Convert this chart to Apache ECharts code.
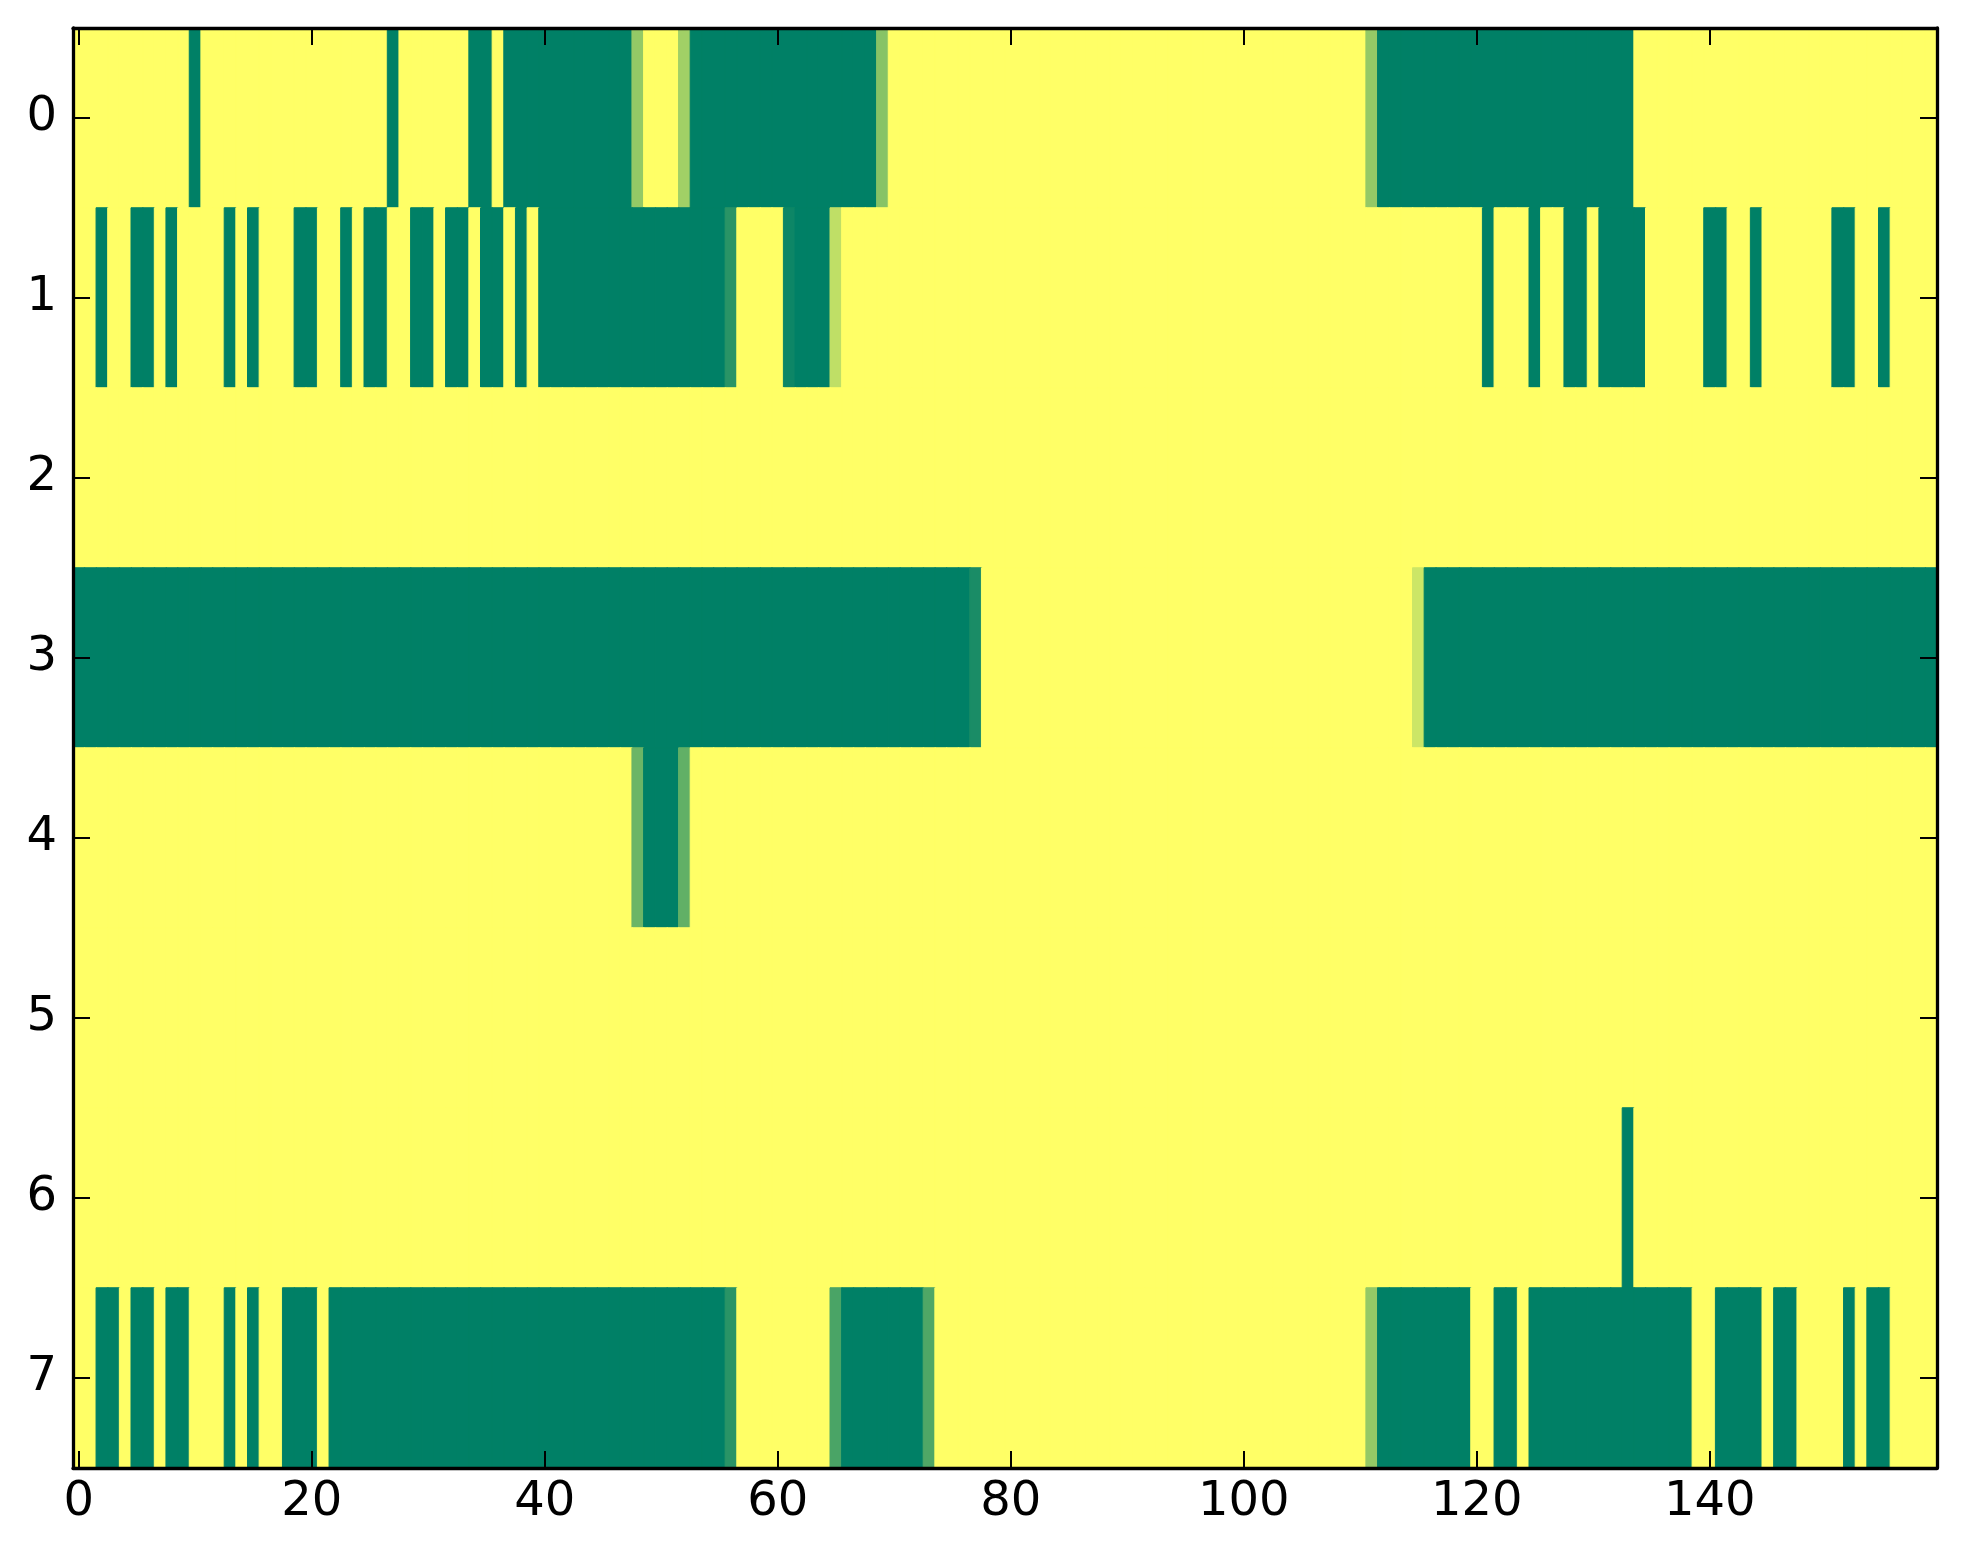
<!DOCTYPE html>
<html>
<head>
<meta charset="utf-8">
<script src="https://cdn.jsdelivr.net/npm/echarts@6/dist/echarts.min.js"></script>
<style>
html,body{margin:0;padding:0;background:#fff;}
#chart{width:1963px;height:1564px;}
</style>
</head>
<body>
<div id="chart"></div>
<script>
// ---- data: one array per image row, 160 columns each (1 = yellow, 0 = green) ----
var row0 = [
1,1,1,1,1,1,1,1,1,1, 0,1,1,1,1,1,1,1,1,1, 1,1,1,1,1,1,1,0,1,1, 1,1,1,1,0,0,1,0,0,0,
0,0,0,0,0,0,0,0,0.58,1, 1,1,0.63,0,0,0,0,0,0,0, 0,0,0,0,0,0,0,0,0,0.53, 1,1,1,1,1,1,1,1,1,1,
1,1,1,1,1,1,1,1,1,1, 1,1,1,1,1,1,1,1,1,1, 1,1,1,1,1,1,1,1,1,1, 1,0.58,0,0,0,0,0,0,0,0,
0,0,0,0,0,0,0,0,0,0, 0,0,0,0,1,1,1,1,1,1, 1,1,1,1,1,1,1,1,1,1, 1,1,1,1,1,1,1,1,1,1
];
var row1 = [
1,1,0,1,1,0,0,1,0,1, 1,1,1,0,1,0,1,1,1,0, 0,1,1,0,1,0,0,1,1,0, 0,1,0,0,1,0,0,1,0,1,
0,0,0,0,0,0,0,0,0,0, 0,0,0,0,0,0,0.16,1,1,1, 1,0.05,0,0,0,0.75,1,1,1,1, 1,1,1,1,1,1,1,1,1,1,
1,1,1,1,1,1,1,1,1,1, 1,1,1,1,1,1,1,1,1,1, 1,1,1,1,1,1,1,1,1,1, 1,1,1,1,1,1,1,1,1,1,
1,0,1,1,1,0,1,1,0,0, 1,0,0,0,0,1,1,1,1,1, 0,0,1,1,0,1,1,1,1,1, 1,0,0,1,1,0,1,1,1,1
];
var row2 = [
1,1,1,1,1,1,1,1,1,1, 1,1,1,1,1,1,1,1,1,1, 1,1,1,1,1,1,1,1,1,1, 1,1,1,1,1,1,1,1,1,1,
1,1,1,1,1,1,1,1,1,1, 1,1,1,1,1,1,1,1,1,1, 1,1,1,1,1,1,1,1,1,1, 1,1,1,1,1,1,1,1,1,1,
1,1,1,1,1,1,1,1,1,1, 1,1,1,1,1,1,1,1,1,1, 1,1,1,1,1,1,1,1,1,1, 1,1,1,1,1,1,1,1,1,1,
1,1,1,1,1,1,1,1,1,1, 1,1,1,1,1,1,1,1,1,1, 1,1,1,1,1,1,1,1,1,1, 1,1,1,1,1,1,1,1,1,1
];
var row3 = [
0,0,0,0,0,0,0,0,0,0, 0,0,0,0,0,0,0,0,0,0, 0,0,0,0,0,0,0,0,0,0, 0,0,0,0,0,0,0,0,0,0,
0,0,0,0,0,0,0,0,0,0, 0,0,0,0,0,0,0,0,0,0, 0,0,0,0,0,0,0,0,0,0, 0,0,0,0,0,0,0,0.1,1,1,
1,1,1,1,1,1,1,1,1,1, 1,1,1,1,1,1,1,1,1,1, 1,1,1,1,1,1,1,1,1,1, 1,1,1,1,1,0.8,0,0,0,0,
0,0,0,0,0,0,0,0,0,0, 0,0,0,0,0,0,0,0,0,0, 0,0,0,0,0,0,0,0,0,0, 0,0,0,0,0,0,0,0,0,0
];
var row4 = [
1,1,1,1,1,1,1,1,1,1, 1,1,1,1,1,1,1,1,1,1, 1,1,1,1,1,1,1,1,1,1, 1,1,1,1,1,1,1,1,1,1,
1,1,1,1,1,1,1,1,0.42,0, 0,0,0.38,1,1,1,1,1,1,1, 1,1,1,1,1,1,1,1,1,1, 1,1,1,1,1,1,1,1,1,1,
1,1,1,1,1,1,1,1,1,1, 1,1,1,1,1,1,1,1,1,1, 1,1,1,1,1,1,1,1,1,1, 1,1,1,1,1,1,1,1,1,1,
1,1,1,1,1,1,1,1,1,1, 1,1,1,1,1,1,1,1,1,1, 1,1,1,1,1,1,1,1,1,1, 1,1,1,1,1,1,1,1,1,1
];
var row5 = [
1,1,1,1,1,1,1,1,1,1, 1,1,1,1,1,1,1,1,1,1, 1,1,1,1,1,1,1,1,1,1, 1,1,1,1,1,1,1,1,1,1,
1,1,1,1,1,1,1,1,1,1, 1,1,1,1,1,1,1,1,1,1, 1,1,1,1,1,1,1,1,1,1, 1,1,1,1,1,1,1,1,1,1,
1,1,1,1,1,1,1,1,1,1, 1,1,1,1,1,1,1,1,1,1, 1,1,1,1,1,1,1,1,1,1, 1,1,1,1,1,1,1,1,1,1,
1,1,1,1,1,1,1,1,1,1, 1,1,1,1,1,1,1,1,1,1, 1,1,1,1,1,1,1,1,1,1, 1,1,1,1,1,1,1,1,1,1
];
var row6 = [
1,1,1,1,1,1,1,1,1,1, 1,1,1,1,1,1,1,1,1,1, 1,1,1,1,1,1,1,1,1,1, 1,1,1,1,1,1,1,1,1,1,
1,1,1,1,1,1,1,1,1,1, 1,1,1,1,1,1,1,1,1,1, 1,1,1,1,1,1,1,1,1,1, 1,1,1,1,1,1,1,1,1,1,
1,1,1,1,1,1,1,1,1,1, 1,1,1,1,1,1,1,1,1,1, 1,1,1,1,1,1,1,1,1,1, 1,1,1,1,1,1,1,1,1,1,
1,1,1,1,1,1,1,1,1,1, 1,1,1,0,1,1,1,1,1,1, 1,1,1,1,1,1,1,1,1,1, 1,1,1,1,1,1,1,1,1,1
];
var row7 = [
1,1,0,0,1,0,0,1,0,0, 1,1,1,0,1,0,1,1,0,0, 0,1,0,0,0,0,0,0,0,0, 0,0,0,0,0,0,0,0,0,0,
0,0,0,0,0,0,0,0,0,0, 0,0,0,0,0,0,0.16,1,1,1, 1,1,1,1,1,0.29,0,0,0,0, 0,0,0,0.31,1,1,1,1,1,1,
1,1,1,1,1,1,1,1,1,1, 1,1,1,1,1,1,1,1,1,1, 1,1,1,1,1,1,1,1,1,1, 1,0.58,0,0,0,0,0,0,0,0,
1,1,0,0,1,0,0,0,0,0, 0,0,0,0,0,0,0,0,0,1, 1,0,0,0,0,1,0,0,1,1, 1,1,0,1,0,0,1,1,1,1
];
var rows = [row0, row1, row2, row3, row4, row5, row6, row7];
var rowLabels = ['0','1','2','3','4','5','6','7'];
var xTickStep = 20; // labelled ticks 0,20,...,140

// "summer" colormap: 0 -> (0, 0.5, 0.4), 1 -> (1, 1, 0.4)
function summer(v) {
  var r = Math.round(255 * v);
  var g = Math.round(255 * (0.5 + 0.5 * v));
  var b = Math.round(255 * 0.4);
  return 'rgb(' + r + ',' + g + ',' + b + ')';
}

var nCols = row0.length;
var colLabels = [];
for (var c = 0; c < nCols; c++) colLabels.push(String(c));
var cells = [];
rows.forEach(function (r, ri) {
  r.forEach(function (v, ci) {
    var col = summer(v);
    cells.push({ value: [ci, ri, v], itemStyle: { color: col, borderColor: col, borderWidth: 1 } });
  });
});

var font = 'DejaVu Sans';
var lineStyle = { color: '#000', width: 3.3 };
function xInterval(i) { return i % xTickStep === 0; }

var chart = echarts.init(document.getElementById('chart'), null, { renderer: 'canvas' });
chart.setOption({
  animation: false,
  backgroundColor: '#fff',
  grid: { left: 73, top: 28, width: 1864, height: 1440, containLabel: false },
  xAxis: [{
    type: 'category', data: colLabels, position: 'bottom', z: 10,
    axisLine: { show: true, lineStyle: lineStyle },
    axisTick: { show: true, inside: true, length: 17, alignWithLabel: true, interval: xInterval, lineStyle: { color: '#000', width: 2 } },
    axisLabel: { show: true, interval: xInterval, margin: 11, color: '#000', fontSize: 48, fontFamily: font },
    splitLine: { show: false }
  }, {
    type: 'category', data: colLabels, position: 'top', z: 10,
    axisLine: { show: true, lineStyle: lineStyle },
    axisTick: { show: true, inside: true, length: 17, alignWithLabel: true, interval: xInterval, lineStyle: { color: '#000', width: 2 } },
    axisLabel: { show: false },
    splitLine: { show: false }
  }],
  yAxis: [{
    type: 'category', data: rowLabels, inverse: true, position: 'left', z: 10,
    axisLine: { show: true, lineStyle: lineStyle },
    axisTick: { show: true, inside: true, length: 17, alignWithLabel: true, lineStyle: { color: '#000', width: 2 } },
    axisLabel: { show: true, margin: 16, color: '#000', fontSize: 48, fontFamily: font },
    splitLine: { show: false }
  }, {
    type: 'category', data: rowLabels, inverse: true, position: 'right', z: 10,
    axisLine: { show: true, lineStyle: lineStyle },
    axisTick: { show: true, inside: true, length: 17, alignWithLabel: true, lineStyle: { color: '#000', width: 2 } },
    axisLabel: { show: false },
    splitLine: { show: false }
  }],
  series: [{
    type: 'heatmap',
    xAxisIndex: 0, yAxisIndex: 0,
    data: cells,
    emphasis: { disabled: true },
    progressive: 0
  }]
});
</script>
</body>
</html>
